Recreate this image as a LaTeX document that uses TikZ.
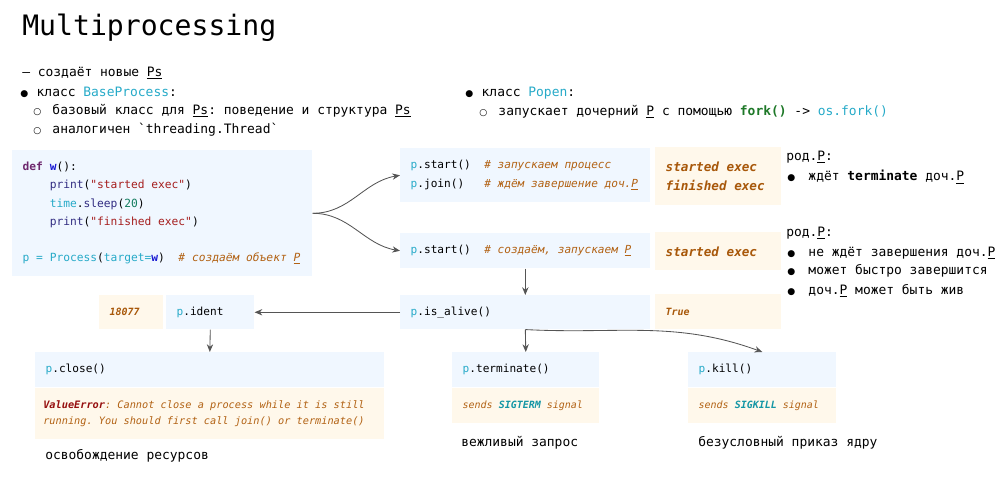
\documentclass[tikz,border=0pt]{standalone}
\usepackage{fontspec}
\setmonofont{DejaVu Sans Mono}[
  BoldFont={DejaVu Sans Mono Bold},
  ItalicFont={DejaVu Sans Mono Oblique},
  BoldItalicFont={DejaVu Sans Mono Bold Oblique}]
\newfontfamily\symfont{DejaVu Sans}
\renewcommand{\familydefault}{\ttdefault}
\usetikzlibrary{positioning,arrows.meta}

\definecolor{boxblue}{RGB}{240,247,255}
\definecolor{outbg}{RGB}{255,248,235}
\definecolor{cmt}{RGB}{178,98,20}
\definecolor{outc}{RGB}{168,88,10}
\definecolor{cyanc}{RGB}{38,170,200}
\definecolor{greenc}{RGB}{30,120,40}
\definecolor{defc}{RGB}{110,40,110}
\definecolor{wc}{RGB}{25,25,210}
\definecolor{fnc}{RGB}{50,45,130}
\definecolor{strc}{RGB}{165,30,30}
\definecolor{numc}{RGB}{20,125,95}
\definecolor{errc}{RGB}{150,15,15}
\definecolor{sigc}{RGB}{20,150,165}
\definecolor{arrc}{RGB}{85,85,85}

\newcommand{\fbody}{\fontsize{9.2}{11}\selectfont}
\newcommand{\fcode}{\fontsize{7.9}{13.5}\selectfont}
\newcommand{\fout}{\fontsize{9}{14.2}\selectfont}
\newcommand{\fsmall}{\fontsize{7.1}{11.3}\selectfont}

\newcommand{\bul}[1][0.41cm]{\makebox[#1][l]{\symfont\fontsize{6.5}{7}\selectfont ●}}
\newcommand{\hbul}[1][0.48cm]{\makebox[#1][l]{\symfont\fontsize{6.5}{7}\selectfont ○}}
\newcommand{\cmnt}[1]{\textcolor{cmt}{\itshape #1}}
\newcommand{\outt}[1]{\textcolor{outc}{\bfseries\itshape #1}}
\newcommand{\pp}{\textcolor{cyanc}{p}}

\tikzset{
  >={Stealth[length=5.5pt,width=4.5pt]}   % arrow tips
}

\begin{document}
\begin{tikzpicture}[x=0.025cm,y=-0.025cm,
    line/.style={draw=arrc, line width=0.6pt, ->},
    txt/.style={anchor=west, inner sep=0pt, font=\fbody},
    box/.style 2 args={anchor=north west, inner xsep=0.26cm, inner ysep=0pt,
      text width=#1, minimum height=#2, align=left,
      execute at begin node={\spaceskip=0pt\xspaceskip=0pt\relax}},
    cbox/.style={fill=boxblue},
    obox/.style={fill=outbg}]
	\useasboundingbox (0,0) rectangle (1000,477);

	% title
	\node[anchor=base west, inner sep=0pt, font=\fontsize{20}{24}\selectfont] (title) at (22,36) {Multiprocessing};

	% overview
	\node[txt] (new) at (22,73) {– создаёт новые \underline{Ps}};
	\node[txt] (base) at (20,92) {\bul класс \textcolor{cyanc}{BaseProcess}:};
	\node[txt] (baseA) at (33,111) {\hbul базовый класс для \underline{Ps}: поведение и структура \underline{Ps}};
	\node[txt] (baseB) at (33,130) {\hbul аналогичен \symbol{96}threading.Thread\symbol{96}};
	\node[txt] (popen) at (465,93) {\bul класс \textcolor{cyanc}{Popen}:};
	\node[txt] (popenA) at (479,112) {\hbul запускает дочерний \underline{P} с помощью \textcolor{greenc}{\textbf{fork()}} -> \textcolor{cyanc}{os.fork()}};

	% code
	\node[box={6.98cm}{3.15cm}, cbox, font=\fontsize{8}{12.9}\selectfont] (code) at (12,150) {%
		\textcolor{defc}{\textbf{def}} \textcolor{wc}{\textbf{w}}():\\
		\phantom{xxxx}\textcolor{fnc}{print}(\textcolor{strc}{"started exec"})\\
		\phantom{xxxx}\textcolor{cyanc}{time}.\textcolor{fnc}{sleep}(\textcolor{numc}{20})\\
		\phantom{xxxx}\textcolor{fnc}{print}(\textcolor{strc}{"finished exec"})\\
		\mbox{}\\
		\pp\ \textcolor{cyanc}{=} \textcolor{cyanc}{Process}(\textcolor{cyanc}{target=}\textcolor{wc}{\textbf{w}})~~\cmnt{\# создаём объект \underline{P}}};

	% start + join
	\node[box={5.73cm}{1.35cm}, cbox, font=\fcode] (join) at (400,148) {%
		\pp.start()~~\cmnt{\# запускаем процесс}\\
		\pp.join()~~~\cmnt{\# ждём завершение доч.\underline{P}}};
	\node[box={2.63cm}{1.45cm}, obox, font=\fout] (out1) at (655,147) {\outt{started exec}\\\outt{finished exec}};
	\node[txt] (par1) at (786,157) {род.\underline{P}:};
	\node[txt] (par1a) at (787,177) {\bul[0.53cm]ждёт \textbf{terminate} доч.\underline{P}};

	% start only
	\node[box={5.73cm}{0.875cm}, cbox, font=\fcode] (start) at (400,233) {\pp.start()~~\cmnt{\# создаём, запускаем \underline{P}}};
	\node[box={2.63cm}{0.95cm}, obox, font=\fout] (out2) at (655,232) {\outt{started exec}};
	\node[txt] (par2) at (786,233) {род.\underline{P}:};
	\node[txt] (par2a) at (787,253) {\bul[0.53cm]не ждёт завершения доч.\underline{P}};
	\node[txt] (par2b) at (787,271) {\bul[0.53cm]может быстро завершится};
	\node[txt] (par2c) at (787,291) {\bul[0.53cm]доч.\underline{P} может быть жив};

	% is_alive, ident
	\node[box={5.73cm}{0.85cm}, cbox, font=\fcode] (alive) at (400,295) {\pp.is\_alive()};
	\node[box={2.63cm}{0.875cm}, obox, font=\fsmall] (true) at (655,294) {\outt{True}};
	\node[box={1.08cm}{0.85cm}, obox, font=\fsmall] (pid) at (99,295) {\outt{18077}};
	\node[box={1.68cm}{0.85cm}, cbox, font=\fcode] (ident) at (166,295) {\pp.ident};

	% close
	\node[box={8.205cm}{0.875cm}, cbox, font=\fcode] (close) at (35,352) {\pp.close()};
	\node[box={8.325cm}{1.275cm}, obox, inner xsep=0.2cm, font=\fontsize{7.3}{11.5}\selectfont, below=0pt of close] (closeerr) {%
		\textcolor{errc}{\bfseries\itshape ValueError}\cmnt{: Cannot close a process while it is still}\\
		\cmnt{running. You should first call join() or terminate()}};
	\node[txt] (freeres) at (45,456) {освобождение ресурсов};

	% terminate, kill
	\node[box={3.155cm}{0.875cm}, cbox, font=\fcode] (term) at (452,352) {\pp.terminate()};
	\node[box={3.155cm}{0.875cm}, obox, font=\fsmall, below=0pt of term] (termsig) {\cmnt{sends \textcolor{sigc}{\bfseries SIGTERM} signal}};
	\node[txt] (polite) at (461,443) {вежливый запрос};
	\node[box={3.18cm}{0.875cm}, cbox, font=\fcode] (kill) at (688,352) {\pp.kill()};
	\node[box={3.18cm}{0.875cm}, obox, font=\fsmall, below=0pt of kill] (killsig) {\cmnt{sends \textcolor{sigc}{\bfseries SIGKILL} signal}};
	\node[txt] (kernel) at (698,443) {безусловный приказ ядру};

	% arrows
	\draw[line] (code.east) to[out=0,in=190] (join.west);
	\draw[line] (code.east) to[out=0,in=170] (start.west);
	\draw[line] (start.south) -- (alive.north);
	\draw[line] (alive.west) -- (ident.east);
	\draw[line] (ident.south) -- (close.north);
	\draw[line] (alive.south) -- (term.north);
	\draw[line] (alive.south) to[out=-3,in=160] (kill.north);
\end{tikzpicture}
\end{document}
